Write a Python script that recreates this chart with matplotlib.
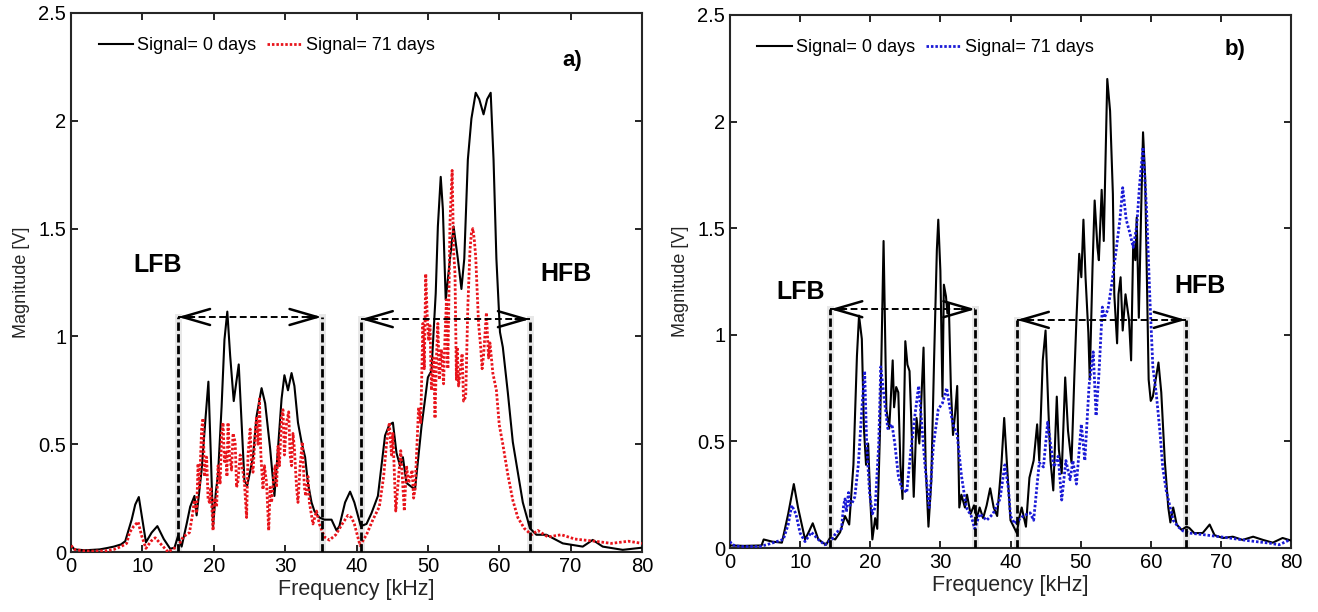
import numpy as np
import matplotlib
matplotlib.use('Agg')
import matplotlib.pyplot as plt

plt.rcParams['font.family'] = ['Liberation Sans', 'DejaVu Sans']

# (frequency kHz, magnitude V)
a_day0 = [(0, 0.03), (0.5, 0.012), (2, 0.008), (4, 0.012), (5, 0.018), (6, 0.025), (7, 0.035),
          (7.6, 0.05), (8.5, 0.15), (9.0, 0.22), (9.5, 0.255), (10.0, 0.15), (10.5, 0.045),
          (11.3, 0.09), (12.1, 0.12), (13.0, 0.06), (13.9, 0.015), (14.5, 0.02), (15.0, 0.075),
          (15.5, 0.025), (16.2, 0.13), (16.7, 0.21), (17.3, 0.26), (17.6, 0.17), (18.3, 0.38),
          (18.8, 0.60), (19.25, 0.79), (19.6, 0.44), (19.9, 0.12), (20.3, 0.28), (20.6, 0.36),
          (21.1, 0.675), (21.5, 0.985), (21.9, 1.115), (22.3, 0.91), (22.8, 0.70), (23.5, 0.87),
          (23.9, 0.60), (24.3, 0.33), (24.7, 0.31), (25.5, 0.44), (26.0, 0.63), (26.7, 0.76),
          (27.2, 0.69), (27.9, 0.48), (28.5, 0.26), (29.0, 0.48), (29.5, 0.71), (29.9, 0.82),
          (30.4, 0.75), (30.9, 0.83), (31.3, 0.77), (31.8, 0.60), (32.3, 0.51), (32.8, 0.44),
          (33.2, 0.32), (33.7, 0.23), (34.1, 0.19), (34.8, 0.16), (35.5, 0.15), (36.5, 0.15),
          (37.2, 0.10), (37.6, 0.12), (38.4, 0.23), (39.1, 0.28), (39.7, 0.23), (40.6, 0.12),
          (41.4, 0.13), (42.1, 0.18), (43.0, 0.26), (44.0, 0.54), (44.6, 0.59), (45.1, 0.60),
          (45.6, 0.46), (46.1, 0.40), (46.5, 0.44), (47.0, 0.32), (48.2, 0.29), (49.1, 0.58),
          (50.0, 0.81), (50.5, 0.84), (51.1, 1.20), (51.4, 1.51), (51.8, 1.74), (52.1, 1.59),
          (52.5, 1.17), (53.1, 1.36), (53.6, 1.51), (54.2, 1.36), (54.7, 1.22), (55.1, 1.36),
          (55.6, 1.82), (56.1, 2.01), (56.7, 2.13), (57.2, 2.10), (57.8, 2.03), (58.3, 2.10),
          (58.8, 2.13), (59.2, 1.82), (59.6, 1.36), (60.1, 1.02), (60.5, 0.95), (61.2, 0.74),
          (61.9, 0.51), (62.6, 0.37), (63.3, 0.23), (64.3, 0.11), (65.2, 0.08), (66.6, 0.08),
          (68.9, 0.04), (71.7, 0.025), (73.1, 0.056), (74.5, 0.025), (77.3, 0.01), (80, 0.02)]

a_day71 = [(0, 0.03), (0.5, 0.012), (1.5, 0.006), (3, 0.004), (5, 0.006), (6, 0.012), (7, 0.025),
           (7.8, 0.04), (8.2, 0.09), (8.8, 0.12), (9.4, 0.14), (9.9, 0.075), (10.5, 0.017),
           (11.2, 0.05), (11.8, 0.066), (12.5, 0.04), (13.6, 0.0), (14.3, 0.015), (15.0, 0.025),
           (15.7, 0.07), (16.6, 0.09), (17.0, 0.17), (17.3, 0.24), (17.6, 0.18), (17.8, 0.41),
           (18.0, 0.30), (18.3, 0.57), (18.5, 0.62), (18.7, 0.35), (19.0, 0.44), (19.2, 0.25),
           (19.4, 0.23), (19.6, 0.30), (19.9, 0.10), (20.1, 0.25), (20.4, 0.21), (20.6, 0.40),
           (20.9, 0.32), (21.1, 0.55), (21.3, 0.60), (21.5, 0.42), (21.7, 0.46), (21.85, 0.35),
           (22.0, 0.60), (22.2, 0.45), (22.5, 0.38), (22.7, 0.55), (23.0, 0.51), (23.2, 0.30),
           (23.4, 0.33), (23.7, 0.45), (24.1, 0.37), (24.3, 0.32), (24.6, 0.16), (24.8, 0.45),
           (25.1, 0.57), (25.3, 0.40), (25.5, 0.37), (25.8, 0.55), (26.0, 0.63), (26.2, 0.50),
           (26.4, 0.71), (26.6, 0.45), (26.9, 0.29), (27.1, 0.40), (27.4, 0.32), (27.7, 0.10),
           (27.9, 0.30), (28.1, 0.23), (28.4, 0.35), (28.6, 0.40), (28.8, 0.30), (29.0, 0.49),
           (29.2, 0.40), (29.5, 0.63), (29.7, 0.66), (29.9, 0.45), (30.2, 0.60), (30.5, 0.65),
           (30.7, 0.45), (30.9, 0.40), (31.1, 0.55), (31.3, 0.48), (31.6, 0.30), (31.8, 0.23),
           (32.1, 0.40), (32.4, 0.51), (32.7, 0.30), (32.9, 0.26), (33.2, 0.35), (33.4, 0.23),
           (33.9, 0.13), (34.4, 0.19), (34.8, 0.13), (35.5, 0.07), (36.2, 0.055), (37.1, 0.08),
           (38.0, 0.13), (38.8, 0.17), (39.3, 0.16), (39.7, 0.13), (40.5, 0.03), (41.4, 0.08),
           (42.3, 0.15), (43.2, 0.21), (43.8, 0.35), (44.2, 0.50), (44.6, 0.60), (44.9, 0.45),
           (45.1, 0.55), (45.5, 0.19), (45.9, 0.35), (46.2, 0.47), (46.5, 0.30), (46.7, 0.19),
           (47.0, 0.40), (47.3, 0.32), (47.8, 0.38), (48.0, 0.25), (48.2, 0.29), (48.7, 0.67),
           (49.0, 0.60), (49.3, 1.06), (49.5, 0.85), (49.7, 1.29), (49.9, 1.10), (50.1, 0.98),
           (50.3, 1.05), (50.5, 0.75), (50.8, 0.90), (51.0, 0.62), (51.2, 0.90), (51.4, 1.06),
           (51.6, 0.80), (51.9, 0.94), (52.2, 0.78), (52.4, 1.00), (52.6, 1.17), (52.8, 0.85),
           (53.1, 1.53), (53.4, 1.77), (53.6, 1.40), (53.8, 1.29), (54.0, 0.80), (54.1, 0.95),
           (54.3, 0.77), (54.5, 0.83), (54.8, 0.92), (55.0, 0.70), (55.3, 0.72), (55.6, 1.14),
           (55.9, 1.40), (56.1, 1.48), (56.3, 1.50), (56.5, 1.45), (56.7, 1.37), (57.1, 1.06),
           (57.4, 0.95), (57.6, 0.85), (57.8, 0.91), (58.2, 1.11), (58.5, 0.90), (58.7, 0.97),
           (59.1, 0.83), (59.6, 0.75), (60.0, 0.59), (60.5, 0.50), (61.2, 0.36), (61.9, 0.24),
           (62.6, 0.16), (63.5, 0.11), (64.5, 0.08), (65.4, 0.10), (66.8, 0.07), (68.7, 0.08),
           (70.6, 0.06), (73.4, 0.05), (75.7, 0.04), (78.1, 0.05), (80, 0.04)]

b_day0 = [(0, 0.012), (2, 0.01), (4.5, 0.012), (4.8, 0.04), (6, 0.03), (7.4, 0.025), (8.3, 0.16),
          (9.1, 0.30), (9.7, 0.19), (10.7, 0.04), (11.3, 0.08), (11.8, 0.116), (12.6, 0.04),
          (13.7, 0.015), (14.3, 0.05), (15.0, 0.04), (15.7, 0.074), (16.4, 0.15), (17.0, 0.11),
          (17.6, 0.39), (18.1, 0.90), (18.4, 1.09), (18.8, 0.98), (19.1, 0.56), (19.4, 0.39),
          (19.7, 0.49), (20.0, 0.23), (20.3, 0.04), (20.7, 0.14), (21.0, 0.09), (21.4, 0.56),
          (21.9, 1.44), (22.3, 0.65), (22.7, 0.56), (22.9, 0.68), (23.2, 0.88), (23.4, 0.66),
          (23.7, 0.755), (24.0, 0.73), (24.3, 0.39), (24.6, 0.23), (25.0, 0.97), (25.3, 0.86),
          (25.6, 0.83), (25.8, 0.65), (26.2, 0.24), (26.6, 0.61), (27.0, 0.49), (27.2, 0.63),
          (27.6, 0.94), (27.9, 0.39), (28.3, 0.10), (28.7, 0.31), (29.1, 0.88), (29.5, 1.40),
          (29.7, 1.54), (30.0, 1.30), (30.3, 0.71), (30.5, 1.235), (30.8, 1.18), (31.0, 1.10),
          (31.2, 1.15), (31.5, 0.75), (31.8, 0.53), (32.1, 0.63), (32.4, 0.76), (32.7, 0.19),
          (33.0, 0.25), (33.5, 0.19), (33.8, 0.25), (34.3, 0.16), (34.8, 0.20), (35.2, 0.14),
          (35.6, 0.19), (36.1, 0.14), (36.6, 0.20), (37.1, 0.28), (37.6, 0.19), (38.1, 0.15),
          (38.7, 0.39), (39.1, 0.61), (39.5, 0.39), (40.0, 0.13), (40.9, 0.07), (41.3, 0.15),
          (41.6, 0.19), (41.8, 0.16), (42.2, 0.10), (42.7, 0.33), (43.3, 0.41), (43.8, 0.58),
          (44.1, 0.41), (44.6, 0.88), (45.0, 1.02), (45.4, 0.65), (45.7, 0.41), (46.1, 0.27),
          (46.6, 0.71), (46.9, 0.46), (47.3, 0.35), (47.8, 0.80), (48.2, 0.55), (48.7, 0.40),
          (49.1, 0.80), (49.4, 1.07), (49.8, 1.38), (50.1, 1.27), (50.4, 1.54), (50.7, 1.27),
          (51.1, 1.01), (51.3, 0.79), (51.7, 1.32), (52.0, 1.63), (52.4, 1.41), (52.6, 1.35),
          (53.0, 1.68), (53.3, 1.44), (53.6, 1.90), (53.8, 2.20), (54.2, 2.05), (54.6, 1.66),
          (54.8, 1.19), (55.2, 0.96), (55.4, 1.19), (55.7, 1.27), (56.0, 1.02), (56.4, 1.19),
          (56.9, 1.07), (57.2, 0.88), (57.5, 1.43), (57.8, 1.35), (58.0, 1.55), (58.3, 1.08),
          (58.6, 1.54), (58.9, 1.95), (59.2, 1.74), (59.4, 1.35), (59.7, 0.79), (60.0, 0.69),
          (60.3, 0.71), (60.7, 0.79), (61.1, 0.87), (61.5, 0.73), (62.0, 0.41), (62.5, 0.19),
          (62.8, 0.12), (63.2, 0.19), (63.7, 0.11), (64.4, 0.085), (65.1, 0.10), (65.5, 0.094),
          (66.2, 0.07), (67.4, 0.07), (68.4, 0.11), (69.1, 0.06), (70.3, 0.047), (71.7, 0.053),
          (73.1, 0.038), (74.6, 0.053), (76.0, 0.038), (77.4, 0.025), (78.8, 0.047), (80, 0.035)]

b_day71 = [(0, 0.03), (0.3, 0.015), (1.4, 0.007), (4.3, 0.007), (5.7, 0.02), (7.6, 0.04), (8.3, 0.11),
           (8.8, 0.20), (9.4, 0.16), (10.0, 0.07), (10.7, 0.03), (11.6, 0.074), (12.6, 0.04),
           (13.5, 0.015), (14.5, 0.04), (15.2, 0.074), (15.9, 0.09), (16.2, 0.20), (16.4, 0.23),
           (16.6, 0.17), (16.9, 0.26), (17.1, 0.20), (17.4, 0.21), (17.8, 0.24), (18.3, 0.39),
           (18.8, 0.65), (19.2, 0.83), (19.5, 0.48), (19.9, 0.26), (20.3, 0.16), (20.7, 0.19),
           (21.2, 0.48), (21.5, 0.85), (22.0, 0.70), (22.5, 0.56), (23.1, 0.58), (23.5, 0.49),
           (24.0, 0.34), (24.5, 0.28), (25.2, 0.26), (25.8, 0.46), (26.4, 0.63), (26.9, 0.76),
           (27.3, 0.60), (27.8, 0.39), (28.4, 0.19), (29.0, 0.48), (29.7, 0.65), (30.3, 0.68),
           (30.9, 0.75), (31.4, 0.65), (31.8, 0.58), (32.4, 0.53), (33.0, 0.34), (33.7, 0.19),
           (34.4, 0.15), (34.9, 0.09), (35.6, 0.16), (36.6, 0.13), (37.5, 0.16), (38.5, 0.23),
           (39.2, 0.39), (39.7, 0.28), (40.0, 0.15), (40.6, 0.114), (41.8, 0.15), (42.8, 0.165),
           (43.3, 0.13), (43.8, 0.30), (44.1, 0.40), (44.7, 0.38), (45.3, 0.59), (45.7, 0.49),
           (46.2, 0.38), (46.8, 0.43), (47.3, 0.225), (47.9, 0.41), (48.5, 0.32), (48.9, 0.41),
           (49.4, 0.30), (50.1, 0.58), (50.6, 0.41), (51.2, 0.76), (51.8, 0.92), (52.2, 0.62),
           (52.6, 0.81), (53.1, 1.13), (53.4, 1.08), (53.9, 1.12), (54.4, 1.23), (55.0, 1.38),
           (55.6, 1.54), (56.0, 1.69), (56.5, 1.54), (57.0, 1.48), (57.5, 1.41), (58.0, 1.51),
           (58.4, 1.70), (58.9, 1.88), (59.4, 1.59), (59.9, 1.15), (60.3, 0.85), (60.8, 0.72),
           (61.3, 0.55), (61.7, 0.38), (62.2, 0.27), (62.7, 0.20), (63.2, 0.13), (63.9, 0.10),
           (64.6, 0.08), (65.5, 0.07), (67.4, 0.063), (69.3, 0.055), (71.2, 0.047), (73.1, 0.038),
           (75.0, 0.03), (76.9, 0.023), (78.3, 0.015), (79.8, 0.038)]

# band limits (kHz) and arrow heights (V)
a_bands = [(15.0, 35.1, 1.09), (40.6, 64.3, 1.08)]
b_bands = [(14.3, 35.0, 1.12), (40.9, 65.0, 1.07)]

xticks = [0, 10, 20, 30, 40, 50, 60, 70, 80]
yticks = [0, 0.5, 1, 1.5, 2, 2.5]
ytick_labels = ['0', '0.5', '1', '1.5', '2', '2.5']


def draw_band(ax, f0, f1, h):
    for f in (f0, f1):
        ax.plot([f, f], [0, h], color='#d8d8d8', lw=5, alpha=0.6, zorder=2)
        ax.plot([f, f], [0, h], color='black', lw=2, dashes=(3, 1.2), zorder=4)
    ax.plot([f0, f1], [h, h], color='black', lw=1.4, dashes=(3.5, 1.8), zorder=4)
    for tip, tail in ((f0, f0 + 2.0), (f1, f1 - 2.0)):
        ax.annotate('', xy=(tip, h), xytext=(tail, h),
                    arrowprops=dict(arrowstyle='->,head_length=1.1,head_width=0.32',
                                    color='black', lw=1.8, mutation_scale=18,
                                    shrinkA=0, shrinkB=0), zorder=5)


def panel(ax, day0, day71, c71, bands, lfb, hfb, tag, tagpos):
    x0, y0 = np.array(day0).T
    x1, y1 = np.array(day71).T
    ax.plot(x0, y0, color='black', lw=1.5, label='Signal= 0 days', zorder=3)
    ax.plot(x1, y1, color=c71, lw=2.0, dashes=(0.9, 0.7), label='Signal= 71 days', zorder=3)
    for f0, f1, h in bands:
        draw_band(ax, f0, f1, h)
    ax.text(lfb[0], lfb[1], 'LFB', fontsize=18, fontweight='bold', ha='center', va='center')
    ax.text(hfb[0], hfb[1], 'HFB', fontsize=18, fontweight='bold', ha='center', va='center')
    ax.text(tagpos[0], tagpos[1], tag, fontsize=16, fontweight='bold', ha='left', va='center')
    ax.set_xlim(0, 80)
    ax.set_ylim(0, 2.5)
    ax.set_xticks(xticks)
    ax.set_yticks(yticks)
    ax.set_yticklabels(ytick_labels)
    ax.tick_params(direction='in', top=True, right=True, labelsize=14.5, length=5, width=1.2)
    for s in ax.spines.values():
        s.set_linewidth(1.5)
        s.set_color('#262626')
    ax.set_xlabel('Frequency [kHz]', fontsize=15.5, color='#262626', labelpad=2)
    ax.set_ylabel('Magnitude [V]', fontsize=13, color='#262626', labelpad=6)
    ax.legend(loc='upper left', bbox_to_anchor=(0.02, 0.985), ncol=2, frameon=False,
              fontsize=13, handlelength=1.9, handletextpad=0.25, columnspacing=0.6)


fig = plt.figure(figsize=(13.18, 6.12), dpi=100)
ax1 = fig.add_axes([71 / 1318, 60 / 612, 571 / 1318, 539 / 612])
ax2 = fig.add_axes([730 / 1318, 64 / 612, 561 / 1318, 533 / 612])

panel(ax1, a_day0, a_day71, '#e8141b', a_bands, (12.2, 1.33), (69.3, 1.29), 'a)', (68.8, 2.28))
panel(ax2, b_day0, b_day71, '#1a1ad6', b_bands, (10.0, 1.20), (67.0, 1.23), 'b)', (70.5, 2.34))

fig.savefig('out.png', dpi=100)
